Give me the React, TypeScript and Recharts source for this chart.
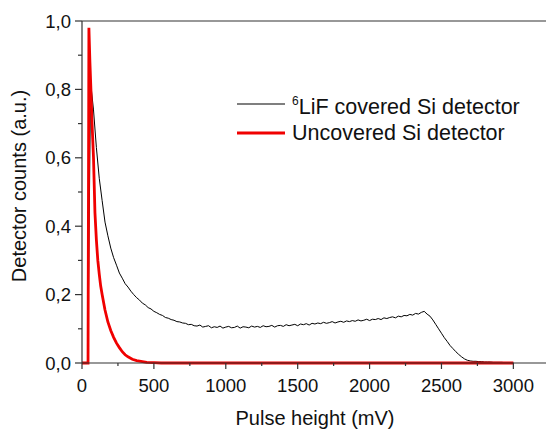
import { LineChart, Line, XAxis, YAxis, ReferenceLine, Legend } from "recharts";

// pulse height (mV) and counts
const lifMv = [
  40, 60, 80, 100, 120, 140, 160, 180, 200, 220, 240, 260, 280, 300, 320, 340, 360, 380, 400, 420,
  440, 460, 480, 500, 520, 540, 560, 580, 600, 620, 640, 660, 680, 700, 720, 740, 760, 780, 800, 820,
  840, 860, 880, 900, 920, 940, 960, 980, 1000, 1020, 1040, 1060, 1080, 1100, 1120, 1140, 1160, 1180, 1200, 1220,
  1240, 1260, 1280, 1300, 1320, 1340, 1360, 1380, 1400, 1420, 1440, 1460, 1480, 1500, 1520, 1540, 1560, 1580, 1600, 1620,
  1640, 1660, 1680, 1700, 1720, 1740, 1760, 1780, 1800, 1820, 1840, 1860, 1880, 1900, 1920, 1940, 1960, 1980, 2000, 2020,
  2040, 2060, 2080, 2100, 2120, 2140, 2160, 2180, 2200, 2220, 2240, 2260, 2280, 2300, 2320, 2340, 2360, 2380, 2400, 2420,
  2440, 2460, 2480, 2500, 2520, 2540, 2560, 2580, 2600, 2620, 2640, 2660, 2680, 2700, 2720, 2740, 2760, 2780, 2800, 2820,
  2840, 2860, 2880, 2900, 2920, 2940, 2960, 2980, 3000,
];
const lifCounts = [
  0.0, 0.82, 0.74, 0.63, 0.54, 0.475, 0.412, 0.372, 0.336, 0.308, 0.286, 0.263, 0.248, 0.232, 0.222, 0.21, 0.2, 0.191, 0.184, 0.175,
  0.17, 0.162, 0.158, 0.151, 0.147, 0.142, 0.139, 0.133, 0.131, 0.127, 0.125, 0.121, 0.12, 0.117, 0.116, 0.112, 0.113, 0.109, 0.108, 0.111,
  0.105, 0.107, 0.109, 0.103, 0.106, 0.104, 0.108, 0.102, 0.105, 0.107, 0.103, 0.104, 0.108, 0.102, 0.106, 0.105, 0.103, 0.108, 0.105, 0.107,
  0.104, 0.109, 0.106, 0.107, 0.11, 0.105, 0.109, 0.11, 0.107, 0.112, 0.109, 0.111, 0.113, 0.109, 0.114, 0.112, 0.115, 0.111, 0.116, 0.114,
  0.117, 0.115, 0.119, 0.116, 0.118, 0.121, 0.117, 0.12, 0.122, 0.119, 0.123, 0.121, 0.124, 0.122, 0.126, 0.123, 0.125, 0.128, 0.124, 0.128,
  0.127, 0.13, 0.127, 0.132, 0.13, 0.133, 0.135, 0.132, 0.137, 0.135, 0.139, 0.138, 0.142, 0.14, 0.145, 0.143, 0.148, 0.151, 0.143, 0.137,
  0.126, 0.113, 0.1, 0.087, 0.074, 0.063, 0.051, 0.042, 0.033, 0.025, 0.018, 0.012, 0.008, 0.006, 0.005, 0.005, 0.004, 0.004, 0.003, 0.003,
  0.003, 0.002, 0.002, 0.002, 0.002, 0.001, 0.001, 0.001, 0.001,
];

const bareMv = [
  0, 42, 48, 55, 62, 70, 80, 90, 100, 110, 120, 130, 140, 160, 180, 200, 220, 240, 260, 280,
  300, 320, 350, 380, 410, 450, 500, 550, 3000,
];
const bareCounts = [
  0, 0, 0.98, 0.88, 0.8, 0.7, 0.6, 0.44, 0.36, 0.3, 0.26, 0.225, 0.2, 0.155, 0.12, 0.095, 0.075, 0.058, 0.045, 0.033,
  0.024, 0.018, 0.011, 0.007, 0.005, 0.002, 0.001, 0, 0,
];

const xTicks = [0, 250, 500, 750, 1000, 1250, 1500, 1750, 2000, 2250, 2500, 2750, 3000];
const yTicks = [0, 0.1, 0.2, 0.3, 0.4, 0.5, 0.6, 0.7, 0.8, 0.9, 1.0];

const lifData = lifMv.map((x, i) => ({ x, y: lifCounts[i] }));
const bareData = bareMv.map((x, i) => ({ x, y: bareCounts[i] }));

const FONT = "'Liberation Sans', Arial, sans-serif";
const AXIS = "#333";

const XTick = ({ x, y, payload }: any) => {
  const major = payload.value % 500 === 0;
  return (
    <g>
      <line x1={x} x2={x} y1={y} y2={y + (major ? 6 : 3)} stroke={AXIS} strokeWidth={1.2} />
      {major && (
        <text x={x} y={y + 29} textAnchor="middle" fontSize={18.5} fontFamily={FONT} fill="#111">
          {payload.value}
        </text>
      )}
    </g>
  );
};

const YTick = ({ x, y, payload }: any) => {
  const major = Math.round(payload.value * 10) % 2 === 0;
  return (
    <g>
      <line x1={x} x2={x - (major ? 7 : 4)} y1={y} y2={y} stroke={AXIS} strokeWidth={1.2} />
      {major && (
        <text x={x - 11} y={y + 6.5} textAnchor="end" fontSize={18.5} fontFamily={FONT} fill="#111">
          {payload.value.toFixed(1).replace(".", ",")}
        </text>
      )}
    </g>
  );
};

const renderLegend = (props: any) => (
  <div style={{ fontFamily: FONT, fontSize: 21.5, color: "#111", lineHeight: "26px" }}>
    {props.payload.map((item: any) => (
      <div key={item.value} style={{ display: "flex", alignItems: "center", whiteSpace: "nowrap" }}>
        <svg width={55} height={26}>
          <line x1={0} x2={48} y1={13} y2={13} stroke={item.color} strokeWidth={item.value.startsWith("Unc") ? 3 : 1.2} />
        </svg>
        <span>
          {item.value.startsWith("LiF") && <sup style={{ fontSize: 12, verticalAlign: "9px" }}>6</sup>}
          {item.value}
        </span>
      </div>
    ))}
  </div>
);

export default function App() {
  return (
    <div style={{ position: "absolute", left: 0, top: 0, background: "#fff" }}>
      <LineChart width={547} height={429} margin={{ top: 21, right: 1, bottom: 0, left: 0 }}>
        <XAxis
          dataKey="x"
          type="number"
          domain={[0, 3227]}
          ticks={xTicks}
          interval={0}
          allowDataOverflow
          height={66}
          tickSize={0}
          tickMargin={0}
          tick={<XTick />}
          stroke={AXIS}
          strokeWidth={1.2}
          label={{
            content: () => (
              <text x={315} y={425} textAnchor="middle" fontSize={20} fontFamily={FONT} fill="#111">
                Pulse height (mV)
              </text>
            ),
          }}
        />
        <YAxis
          dataKey="y"
          type="number"
          domain={[0, 1]}
          ticks={yTicks}
          interval={0}
          width={82}
          tickSize={0}
          tickMargin={0}
          tick={<YTick />}
          stroke={AXIS}
          strokeWidth={1.2}
          label={{
            content: () => (
              <text
                x={26}
                y={186}
                transform="rotate(-90 26 186)"
                textAnchor="middle"
                fontSize={20}
                fontFamily={FONT}
                fill="#111"
              >
                Detector counts (a.u.)
              </text>
            ),
          }}
        />
        <ReferenceLine y={1} stroke={AXIS} strokeWidth={1.2} />
        <Legend
          layout="horizontal"
          verticalAlign="middle"
          align="center"
          content={renderLegend}
          wrapperStyle={{ position: "absolute", left: 237, top: 88, width: 310 }}
        />
        <Line
          data={lifData}
          dataKey="y"
          name="LiF covered Si detector"
          stroke="#000"
          strokeWidth={1}
          dot={false}
          type="linear"
          isAnimationActive={false}
        />
        <Line
          data={bareData}
          dataKey="y"
          name="Uncovered Si detector"
          stroke="#f00000"
          strokeWidth={2.8}
          dot={false}
          type="linear"
          isAnimationActive={false}
        />
      </LineChart>
    </div>
  );
}
